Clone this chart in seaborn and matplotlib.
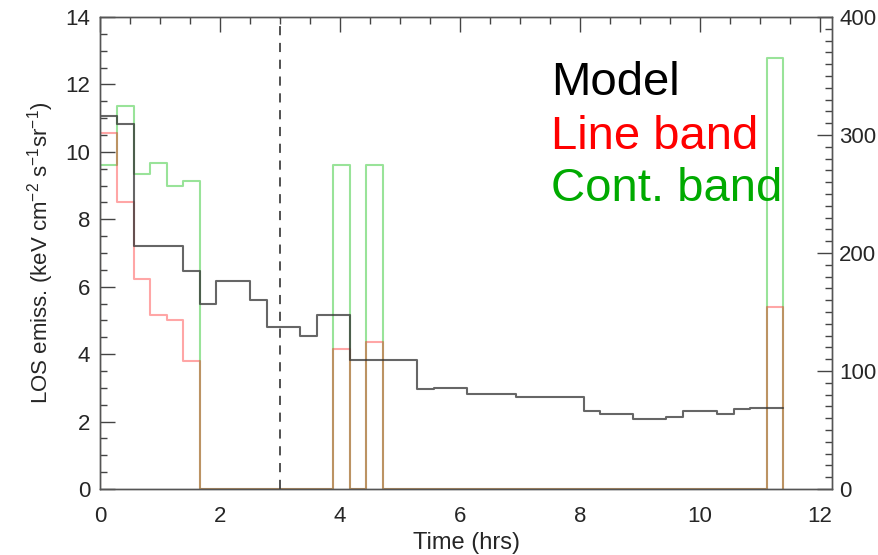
import numpy as np
import pandas as pd
import matplotlib
matplotlib.use('Agg')
import matplotlib.pyplot as plt
from matplotlib.ticker import MultipleLocator
import seaborn as sns

# bin edges (hrs), 41 bins
edges = [0.00, 0.28, 0.56, 0.83, 1.11, 1.39, 1.67, 1.94, 2.22, 2.50, 2.78,
         3.06, 3.33, 3.61, 3.89, 4.17, 4.44, 4.72, 5.00, 5.28, 5.56, 5.83,
         6.11, 6.39, 6.67, 6.94, 7.22, 7.50, 7.78, 8.06, 8.33, 8.61, 8.89,
         9.17, 9.44, 9.72, 10.00, 10.28, 10.56, 10.83, 11.11, 11.39]

model = [11.07, 10.83, 7.22, 7.22, 7.22, 6.47, 5.50, 6.16, 6.16, 5.60, 4.80,
         4.80, 4.53, 5.16, 5.16, 3.83, 3.83, 3.83, 3.83, 2.97, 3.00, 3.00,
         2.81, 2.81, 2.81, 2.73, 2.73, 2.73, 2.73, 2.32, 2.21, 2.21, 2.07,
         2.07, 2.15, 2.32, 2.32, 2.21, 2.37, 2.41, 2.41]

line_band = [10.55, 8.51, 6.22, 5.15, 5.01, 3.79, 0, 0, 0, 0, 0,
             0, 0, 0, 4.14, 0, 4.37, 0, 0, 0, 0, 0,
             0, 0, 0, 0, 0, 0, 0, 0, 0, 0, 0,
             0, 0, 0, 0, 0, 0, 0, 5.40]

cont_band = [9.60, 11.36, 9.33, 9.68, 8.98, 9.15, 0, 0, 0, 0, 0,
             0, 0, 0, 9.62, 0, 9.62, 0, 0, 0, 0, 0,
             0, 0, 0, 0, 0, 0, 0, 0, 0, 0, 0,
             0, 0, 0, 0, 0, 0, 0, 12.77]

labels = ['Model', 'Line band', 'Cont. band']
label_colors = ['black', '#ff0000', '#00aa00']

sns.set_style('white')
plt.rcParams['font.family'] = ['Liberation Sans', 'DejaVu Sans']
plt.rcParams['mathtext.fontset'] = 'custom'
plt.rcParams['mathtext.rm'] = 'Liberation Sans'
plt.rcParams['mathtext.it'] = 'Liberation Sans'


def closed_steps(vals):
    # histogram outline starting and ending at zero
    x = [edges[0]] + edges
    y = [0] + list(vals) + [0]
    return pd.DataFrame({'t': x, 'v': y})


fig = plt.figure(figsize=(8.79, 5.55), dpi=100)
ax = fig.add_axes([0.1138, 0.1189, 0.8328, 0.8505])

sns.lineplot(data=closed_steps(cont_band), x='t', y='v', estimator=None, sort=False,
             drawstyle='steps-post', color='#00bb00', alpha=0.4, lw=1.5, ax=ax)
sns.lineplot(data=closed_steps(line_band), x='t', y='v', estimator=None, sort=False,
             drawstyle='steps-post', color='#ff0000', alpha=0.35, lw=1.5, ax=ax)
model_df = pd.DataFrame({'t': edges, 'v': list(model) + [model[-1]]})
sns.lineplot(data=model_df, x='t', y='v', estimator=None, sort=False,
             drawstyle='steps-post', color='#333333', alpha=0.75, lw=1.5, ax=ax)

ax.axvline(3, color='#222222', lw=1.1, ls=(0, (6, 5)))

ax.set_xlim(0, 12.2)
ax.set_ylim(0, 14)
ax.xaxis.set_major_locator(MultipleLocator(2))
ax.xaxis.set_minor_locator(MultipleLocator(0.5))
ax.yaxis.set_major_locator(MultipleLocator(2))
ax.yaxis.set_minor_locator(MultipleLocator(0.5))
ax.tick_params(which='both', direction='in', top=True, right=False,
               labelsize=16, color='#444444')
ax.tick_params(which='major', length=11, width=1)
ax.tick_params(which='minor', length=5, width=1)
ax.tick_params(axis='x', pad=12)
ax.tick_params(axis='y', pad=7)
ax.set_xlabel('Time (hrs)', fontsize=17, labelpad=4)
ax.set_ylabel(r'LOS emiss. (keV cm$^{-2}$ s$^{-1}$sr$^{-1}$)', fontsize=16, labelpad=7)

ax2 = ax.twinx()
ax2.set_ylim(0, 400)
ax2.yaxis.set_major_locator(MultipleLocator(100))
ax2.yaxis.set_minor_locator(MultipleLocator(10))
ax2.tick_params(which='both', direction='in', labelsize=16, color='#444444', pad=5)
ax2.tick_params(which='major', length=11, width=1)
ax2.tick_params(which='minor', length=5, width=1)

for a in (ax, ax2):
    for s in a.spines.values():
        s.set_color('#555555')
        s.set_linewidth(1)

ys = [11.69, 10.09, 8.53]
for lab, col, y in zip(labels, label_colors, ys):
    ax.text(7.52, y, lab, color=col, fontsize=34, ha='left', va='baseline')

fig.savefig('out.png', dpi=100)
